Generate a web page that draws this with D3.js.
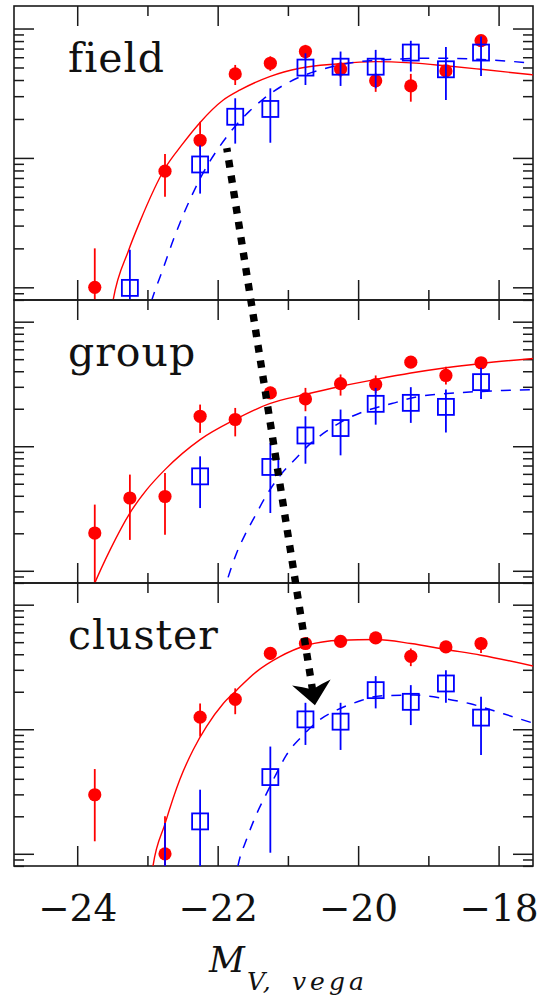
<!DOCTYPE html>
<html>
<head>
<meta charset="utf-8">
<script src="https://cdn.jsdelivr.net/npm/d3@7"></script>
<style>
  html, body { margin: 0; padding: 0; background: #fff; overflow: hidden; }
  svg { display: block; }
</style>
</head>
<body>
<svg id="chart" width="539" height="995"></svg>
<script>
// ---- data -------------------------------------------------------------
// Environment panels, top to bottom
const panelNames = ["field", "group", "cluster"];

// Binned luminosity functions: [M_V, phi, phi_low, phi_high] (relative units)
const fieldRed = [
  [-23.75, 1.0, 0.3, 2.0],
  [-22.75, 7.9, 5.0, 10.7],
  [-22.25, 13.7, 11.5, 19.0],
  [-21.75, 44.6, 36.6, 52.3],
  [-21.25, 53.9, 47, 61],
  [-20.75, 66.4, 58, 74.8],
  [-20.25, 48.6, 42, 55],
  [-19.75, 39.5, 32.4, 45],
  [-19.25, 36.0, 27.2, 44.6],
  [-18.75, 47.0, 42, 52],
  [-18.25, 80.7, 76, 86]
];
const fieldBlue = [
  [-23.25, 0.99, 0.3, 1.95],
  [-22.25, 8.9, 5.3, 12.5],
  [-21.75, 20.8, 12.9, 28.9],
  [-21.25, 23.9, 13.1, 34.5],
  [-20.75, 49.9, 36.6, 64.4],
  [-20.25, 50.7, 36.0, 66.4],
  [-19.75, 50.7, 34.5, 68.4],
  [-19.25, 65.2, 46.5, 80.4],
  [-18.75, 48.4, 28.0, 72.1],
  [-18.25, 65.2, 43.0, 86.7]
];
const groupRed = [
  [-23.75, 2.01, 0.3, 3.40],
  [-23.25, 3.84, 1.77, 5.92],
  [-22.75, 3.95, 1.95, 6.10],
  [-22.25, 17.4, 12.8, 21.6],
  [-21.75, 16.4, 12.0, 20.3],
  [-21.25, 26.8, 24, 30],
  [-20.75, 24.0, 19.1, 29.4],
  [-20.25, 31.8, 25.5, 37.7],
  [-19.75, 31.3, 26.8, 37.0],
  [-19.25, 47.3, 43, 51],
  [-18.75, 37.0, 31.3, 43.4],
  [-18.25, 46.8, 43, 50]
];
const groupBlue = [
  [-22.25, 5.73, 3.19, 8.30],
  [-21.25, 6.82, 2.91, 10.6],
  [-20.75, 12.2, 7.24, 17.4],
  [-20.25, 14.0, 8.45, 19.7],
  [-19.75, 21.9, 14.9, 29.4],
  [-19.25, 22.3, 15.4, 29.8],
  [-18.75, 20.7, 12.9, 28.5],
  [-18.25, 32.7, 24.0, 42.6]
];
const clusterRed = [
  [-23.75, 2.98, 1.26, 4.79],
  [-22.75, 1.0, 0.3, 2.0],
  [-22.25, 12.5, 8.73, 16.1],
  [-21.75, 17.4, 13.2, 21.3],
  [-21.25, 40.6, 36, 45],
  [-20.75, 48.8, 44, 54],
  [-20.25, 50.8, 46, 56],
  [-19.75, 54.1, 49, 59],
  [-19.25, 38.5, 32.1, 44.5],
  [-18.75, 45.8, 42, 50],
  [-18.25, 48.8, 41.0, 55.1]
];
const clusterBlue = [
  [-22.75, 0.5, 0.2, 1.77],
  [-22.25, 1.82, 0.3, 3.27],
  [-21.25, 4.13, 1.02, 7.26],
  [-20.75, 12.0, 7.48, 16.3],
  [-20.25, 11.5, 6.82, 16.3],
  [-19.75, 20.6, 14.7, 26.7],
  [-19.25, 16.6, 10.8, 22.6],
  [-18.75, 23.3, 16.3, 29.8],
  [-18.25, 12.4, 6.22, 18.2]
];

// Fitted Schechter curves: [M_V, phi]
const fieldRedFit = [
  [-23.56, 0.447], [-23.49, 0.789], [-23.27, 1.92], [-23.11, 3.19], [-22.75, 8.32],
  [-22.51, 12.6], [-22.25, 18.8], [-21.92, 28.0], [-21.68, 33.5], [-21.26, 42.5],
  [-20.83, 49.3], [-20.31, 53.2], [-19.75, 55.5], [-19.25, 54.3], [-18.75, 51.5],
  [-18.25, 48.4], [-17.5, 43.8]
];
const fieldBlueFit = [
  [-23.02, 0.562], [-22.94, 0.79], [-22.78, 1.38], [-22.63, 2.34], [-22.49, 3.63],
  [-22.35, 5.37], [-22.16, 8.51], [-21.97, 12.3], [-21.75, 17.6], [-21.55, 22.9],
  [-21.35, 28.5], [-21.07, 36.3], [-20.83, 42.2], [-20.54, 47.9], [-19.97, 55.5],
  [-19.5, 57.9], [-18.88, 59.0], [-18.31, 57.9], [-17.51, 54.0]
];
const groupRedFit = [
  [-23.83, 0.617], [-23.75, 0.796], [-23.53, 1.48], [-23.25, 2.91], [-23.01, 4.48],
  [-22.75, 6.49], [-22.25, 11.3], [-21.75, 16.4], [-21.26, 22.0], [-20.76, 26.0],
  [-20.26, 30.2], [-19.75, 34.4], [-19.25, 38.7], [-18.75, 42.7], [-18.25, 46.2],
  [-17.5, 50.7]
];
const groupBlueFit = [
  [-21.93, 0.631], [-21.87, 0.820], [-21.73, 1.39], [-21.61, 1.95], [-21.47, 2.74],
  [-21.30, 4.08], [-21.10, 5.92], [-20.89, 7.94], [-20.68, 10.5], [-20.45, 13.2],
  [-20.16, 16.6], [-19.86, 19.5], [-19.52, 22.0], [-19.17, 24.9], [-18.60, 26.8],
  [-17.94, 28.0], [-17.51, 28.5]
];
const clusterRedFit = [
  [-22.97, 0.501], [-22.92, 0.805], [-22.75, 1.74], [-22.54, 3.93], [-22.35, 6.82],
  [-22.16, 10.5], [-21.92, 16.1], [-21.73, 20.6], [-21.45, 28.9], [-21.12, 38.1],
  [-20.73, 47.2], [-20.25, 51.8], [-19.75, 52.5], [-19.25, 48.8], [-18.75, 43.7],
  [-18.25, 39.3], [-17.5, 32.1]
];
const clusterBlueFit = [
  [-21.76, 0.562], [-21.71, 0.805], [-21.59, 1.30], [-21.45, 2.06], [-21.30, 3.08],
  [-21.16, 4.45], [-21.02, 6.22], [-20.78, 8.99], [-20.55, 11.9], [-20.30, 14.3],
  [-20.01, 16.6], [-19.69, 18.5], [-19.21, 18.8], [-18.79, 17.7], [-18.40, 16.0],
  [-17.93, 13.3], [-17.51, 11.2]
];

// Axis ticks
const xMajorTicks = [-24, -22, -20, -18];
const xMinorTicks = [-23, -21, -19];
const yMajorTicks = [1, 10, 100];

// Shift of the characteristic magnitude: [panel, M_V, phi] start -> end
const shiftArrow = [["field", -21.87, 11.9], ["cluster", -20.615, 15.6]];

// ---- layout -------------------------------------------------------------
const plotLeft = 14, plotRight = 533;
const panelTops = [6, 300, 583];
const panelBottoms = [300, 583, 866];
const RED = "#ff0000", BLUE = "#0000ff", INK = "#1a1a1a";

const svg = d3.select("#chart");

const x = d3.scaleLinear().domain([-24.9, -17.51]).range([plotLeft, plotRight]);

const yMinorTicks = [];
[0.1, 1, 10, 100].forEach(dec => {
  for (let k = 2; k <= 9; k++) {
    const v = k * dec;
    if (v > 0.798 && v < 149.3) yMinorTicks.push(v);
  }
});

const panelData = {
  field:   { red: fieldRed,   blue: fieldBlue,   redFit: fieldRedFit,   blueFit: fieldBlueFit },
  group:   { red: groupRed,   blue: groupBlue,   redFit: groupRedFit,   blueFit: groupBlueFit },
  cluster: { red: clusterRed, blue: clusterBlue, redFit: clusterRedFit, blueFit: clusterBlueFit }
};

const yScales = {};
const defs = svg.append("defs");

panelNames.forEach((name, i) => {
  const top = panelTops[i], bottom = panelBottoms[i];
  const y = d3.scaleLog().domain([0.798, 149.3]).range([bottom, top]);
  yScales[name] = y;

  defs.append("clipPath").attr("id", "clip-" + name)
    .append("rect")
    .attr("x", plotLeft).attr("y", top)
    .attr("width", plotRight - plotLeft).attr("height", bottom - top);

  const g = svg.append("g").attr("class", "panel-" + name);
  const d = panelData[name];

  // axes: ticks point inward from every edge
  const axisGroups = [
    [d3.axisBottom(x).tickValues(xMajorTicks).tickSize(20), `translate(0,${top})`],
    [d3.axisBottom(x).tickValues(xMinorTicks).tickSize(10), `translate(0,${top})`],
    [d3.axisTop(x).tickValues(xMajorTicks).tickSize(20), `translate(0,${bottom})`],
    [d3.axisTop(x).tickValues(xMinorTicks).tickSize(10), `translate(0,${bottom})`],
    [d3.axisRight(y).tickValues(yMajorTicks).tickSize(20), `translate(${plotLeft},0)`],
    [d3.axisRight(y).tickValues(yMinorTicks).tickSize(10), `translate(${plotLeft},0)`],
    [d3.axisLeft(y).tickValues(yMajorTicks).tickSize(20), `translate(${plotRight},0)`],
    [d3.axisLeft(y).tickValues(yMinorTicks).tickSize(10), `translate(${plotRight},0)`]
  ];
  axisGroups.forEach(([axis, tr]) => {
    const ag = g.append("g").attr("transform", tr).call(axis.tickFormat(""));
    ag.select(".domain").remove();
    ag.selectAll(".tick line").attr("stroke", INK).attr("stroke-width", 1.5);
  });

  g.append("rect")
    .attr("x", plotLeft).attr("y", top)
    .attr("width", plotRight - plotLeft).attr("height", bottom - top)
    .attr("fill", "none").attr("stroke", INK).attr("stroke-width", 1.6);

  const body = g.append("g").attr("clip-path", `url(#clip-${name})`);

  const line = d3.line().x(p => x(p[0])).y(p => y(p[1])).curve(d3.curveMonotoneX);

  body.append("path").datum(d.redFit).attr("d", line)
    .attr("fill", "none").attr("stroke", RED).attr("stroke-width", 1.4);
  body.append("path").datum(d.blueFit).attr("d", line)
    .attr("fill", "none").attr("stroke", BLUE).attr("stroke-width", 1.5)
    .attr("stroke-dasharray", "10 9");

  // red: filled circles with error bars
  body.selectAll(".red-err").data(d.red).join("line")
    .attr("x1", p => x(p[0])).attr("x2", p => x(p[0]))
    .attr("y1", p => y(p[2])).attr("y2", p => y(p[3]))
    .attr("stroke", RED).attr("stroke-width", 1.8);
  body.selectAll(".red-pt").data(d.red).join("circle")
    .attr("cx", p => x(p[0])).attr("cy", p => y(p[1])).attr("r", 6.6)
    .attr("fill", RED);

  // blue: open squares with error bars
  body.selectAll(".blue-err").data(d.blue).join("line")
    .attr("x1", p => x(p[0])).attr("x2", p => x(p[0]))
    .attr("y1", p => y(p[2])).attr("y2", p => y(p[3]))
    .attr("stroke", BLUE).attr("stroke-width", 1.8);
  body.selectAll(".blue-pt").data(d.blue).join("rect")
    .attr("x", p => x(p[0]) - 8).attr("y", p => y(p[1]) - 8)
    .attr("width", 16).attr("height", 16)
    .attr("fill", "none").attr("stroke", BLUE).attr("stroke-width", 1.8);

  // panel label
  g.append("text")
    .attr("x", 68).attr("y", top + 65.5)
    .attr("font-family", "'DejaVu Serif', serif")
    .attr("font-size", 41).attr("letter-spacing", 1)
    .attr("fill", "#111")
    .text(name);
});

// bottom tick labels
const labelAxis = svg.append("g")
  .attr("transform", `translate(0,${panelBottoms[2]})`)
  .call(d3.axisBottom(x).tickValues(xMajorTicks).tickSize(0).tickFormat(d3.format("d")));
labelAxis.select(".domain").remove();
labelAxis.selectAll("text")
  .attr("dy", null).attr("y", 55)
  .attr("font-family", "'DejaVu Serif', serif")
  .attr("font-size", 37.5).attr("fill", "#111");

// x-axis title: M_{V, vega}
const title = svg.append("g").attr("font-family", "'DejaVu Serif', serif")
  .attr("font-style", "italic").attr("fill", "#111");
title.append("text").attr("x", 209).attr("y", 971.5).attr("font-size", 35).text("M");
title.append("text").attr("x", 247).attr("y", 990).attr("font-size", 25)
  .attr("letter-spacing", 2).text("V,");
title.append("text").attr("x", 292).attr("y", 990).attr("font-size", 25)
  .attr("letter-spacing", 4).text("vega");

// dotted arrow marking the shift between field and cluster
const [a0, a1] = shiftArrow;
const p0 = [x(a0[1]), yScales[a0[0]](a0[2])];
const p1 = [x(a1[1]), yScales[a1[0]](a1[2])];
const len = Math.hypot(p1[0] - p0[0], p1[1] - p0[1]);
const ux = (p1[0] - p0[0]) / len, uy = (p1[1] - p0[1]) / len;
const nx = -uy, ny = ux;
const at = (along, side) => [p1[0] + ux * along + nx * side, p1[1] + uy * along + ny * side];
const notch = at(-16, 0);
const shaftEnd = at(-14, 0);

// dashes laid out from the head backwards so the last one meets the head
svg.append("line")
  .attr("x1", shaftEnd[0]).attr("y1", shaftEnd[1]).attr("x2", p0[0]).attr("y2", p0[1])
  .attr("stroke", "#000").attr("stroke-width", 7.4)
  .attr("stroke-dasharray", "7.4 8.2").attr("stroke-linecap", "butt");

// barbed head with a shallow notch at the back
const wingL = at(-23, -19.5), wingR = at(-23, 19.5);
const bL = at(-20, -9), bR = at(-20, 9);
svg.append("path")
  .attr("d", `M${p1} L${wingR} Q${bR} ${notch} Q${bL} ${wingL} Z`)
  .attr("fill", "#000");
</script>
</body>
</html>
